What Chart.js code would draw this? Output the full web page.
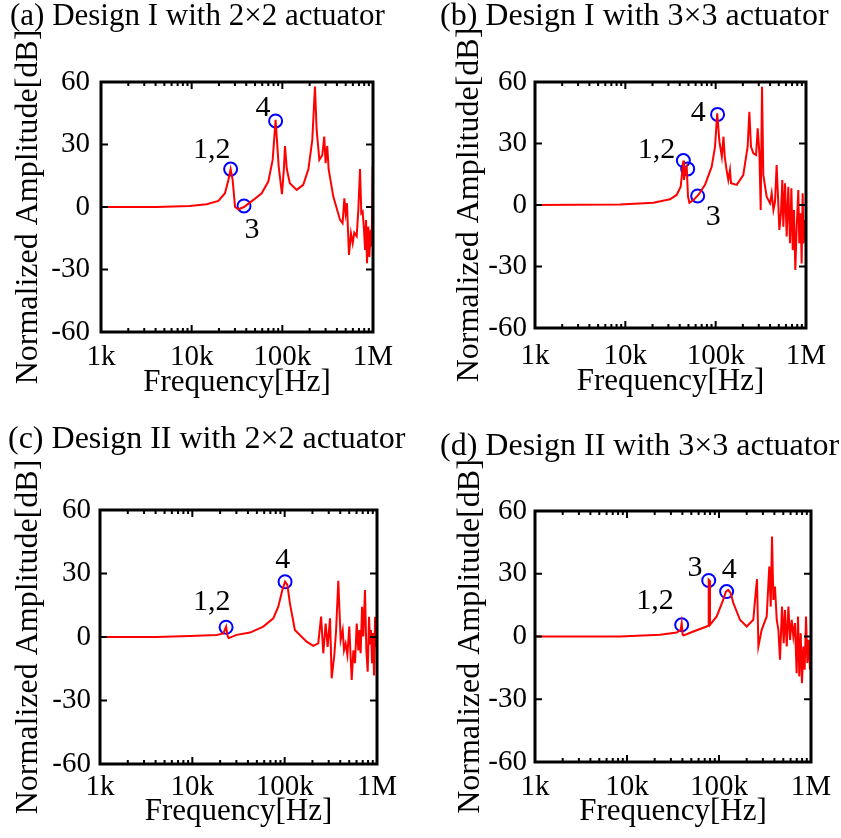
<!DOCTYPE html>
<html>
<head>
<meta charset="utf-8">
<script src="https://cdn.jsdelivr.net/npm/chart.js@4.4.1/dist/chart.umd.min.js"></script>
<style>
html,body{margin:0;padding:0;background:#fff;}
#wrap{position:relative;width:841px;height:838px;overflow:hidden;}
canvas{position:absolute;}
</style>
</head>
<body>
<div id="wrap">
<canvas id="cA" width="420" height="419" style="left:0;top:0"></canvas>
<canvas id="cB" width="421" height="419" style="left:420px;top:0"></canvas>
<canvas id="cC" width="420" height="419" style="left:0;top:419px"></canvas>
<canvas id="cD" width="421" height="419" style="left:420px;top:419px"></canvas>
</div>
<script>
// ---------------- DATA ----------------
const xMajorTicks = [1000, 10000, 100000, 1000000];
const xTickLabels = ['1k', '10k', '100k', '1M'];
const yTickValues = [-60, -30, 0, 30, 60];
const yTickLabels = ['-60', '-30', '0', '30', '60'];

const titleA = '(a) Design I with 2\u00d72 actuator';
const titleB = '(b) Design I with 3\u00d73 actuator';
const titleC = '(c) Design II with 2\u00d72 actuator';
const titleD = '(d) Design II with 3\u00d73 actuator';
const xAxisTitle = 'Frequency[Hz]';
const yAxisTitle = 'Normalized Amplitude[dB]';

// (a)
const freqA = [1000,4110,9550,14600,19700,23300,25400,26900,28300,30100,32700,37800,47900,59200,70000,78200,84300,91200,99100,104000,107000,112000,121000,144000,170000,194000,214000,229000,239000,256000,276000,290000,300000,313000,324000,365000,433000,462000,483000,499000,516000,543000,571000,597000,622000,661000,689000,719000,743000,769000,796000,817000,838000,859000,887000,912000,942000,966000,991000,1000000];
const ampA = [0,0,0.5,1.3,2.9,6.6,13,18.2,13,0,-1.1,0,3.4,6.6,12.2,22.6,41.8,19.4,6.2,18.2,29.3,18.2,11.4,8.2,10.6,18.2,32.2,57.8,37,22.6,25,33.8,21,29.3,18.2,5,-6.2,-7.8,4.2,-3,1.8,-23,-12.6,-17.4,-12.3,-14,-1.4,18.2,-3,-2.2,-11,-20.6,-6.2,-27,-9.4,-24,-11,-19,19.6,11.4];
const markFreqA = [26900, 37800, 84300];
const markAmpA = [18.2, 0.5, 41.3];
const labelTextA = ['1,2', '3', '4'];
const labelFreqA = [16700, 46200, 61200];
const labelAmpA = [27.4, -11, 47.5];

// (b)
const freqB = [1000,8730,20400,31200,37000,41000,43200,43900,44600,46100,47800,49400,51200,56600,64300,76200,90400,98400,104000,110000,117000,122000,126000,132000,138000,144000,148000,171000,202000,226000,236000,246000,261000,280000,292000,305000,315000,326000,337000,367000,400000,417000,436000,454000,473000,490000,507000,528000,547000,561000,586000,611000,637000,665000,689000,713000,736000,762000,789000,822000,843000,873000,895000,918000,942000,975000];
const ampB = [0,0.3,1.1,2.8,4.9,8.9,18.7,21.7,12.2,17.1,18.7,4.1,1.1,2.4,4.9,9.8,18.7,28.5,44.7,31,23.6,33.3,23.6,17.1,12.2,17.1,10.6,9.8,14.6,28.5,45.5,28.5,25.2,24.4,37.4,25.2,-2.4,57.7,14.6,4.1,0.8,5.7,-2.4,1.6,19.5,4.1,-12.2,-4,12.2,-10.6,10.6,-15.4,8.9,-18.7,8.1,-22,-2.4,-31.7,-10.6,7.3,-18.7,-4,-28.5,5.7,-18.7,-7.3];
const markFreqB = [43900, 49000, 63200, 105000];
const markAmpB = [21.7, 17.6, 4.4, 44.2];
const labelTextB = ['1,2', '3', '4'];
const labelFreqB = [22200, 94200, 64300];
const labelAmpB = [26.8, -5.7, 44.7];

// (c)
const freqC = [1000,4110,9440,18400,21700,23200,24200,24800,30200,42200,58700,75300,85300,94400,101000,107000,114000,129000,173000,204000,231000,248000,262000,278000,292000,310000,323000,345000,360000,381000,404000,425000,439000,457000,478000,501000,532000,555000,578000,603000,628000,644000,665000,689000,711000,741000,767000,793000,820000,841000,861000,883000,906000,929000,953000,977000,1000000];
const ampC = [0,0,0.5,1,1.7,4.9,0.2,-0.5,1,2.1,4.9,8.8,14.3,22.2,26.1,24.6,15.9,3.3,-2.2,-4.2,-3,9.6,-7.7,6.3,-4.7,8.8,-19.5,-8.5,2.6,26.6,-1.4,3.3,-6.3,-3.1,-8.5,4.9,-20.3,-6.3,-12.4,6.3,-6.3,3.3,-7.7,14.3,0.2,22.2,-6.3,-16.4,9.6,-3.1,3.3,-12.4,1.9,-18.2,9.6,-4.7,3.3];
const markFreqC = [23200, 101000];
const markAmpC = [4.6, 26.1];
const labelTextC = ['1,2', '4'];
const labelFreqC = [16200, 95300];
const labelAmpC = [16.7, 36.4];

// (d)
const freqD = [1000,8390,22900,34700,38300,39300,40300,41300,52600,73500,76600,77300,78500,79800,94400,111000,119000,126000,134000,143000,169000,200000,236000,252000,259000,268000,291000,330000,352000,365000,377000,390000,406000,424000,442000,460000,484000,505000,521000,545000,568000,592000,617000,643000,670000,698000,723000,746000,773000,798000,826000,853000,883000,912000,944000,975000];
const ampD = [0,0,0.8,1.9,3.2,6.4,0.8,0.5,2.4,4.8,5.1,27.1,26.8,5.6,9.6,17.5,21.5,22.3,20.7,16.1,8,4.8,8,22.3,27.4,-4.8,3.2,9.6,33.4,14.3,47.8,17.5,23.9,8,3.2,-11.1,14.3,-3.2,12.7,-4.8,14.3,-1.6,8,0,6.4,-17.5,9.6,-19.1,1.6,-22.3,-4.8,-15.9,9.6,-12.7,-1.6,-15.9];
const markFreqD = [39300, 77300, 121000];
const markAmpD = [5.6, 26.8, 21.5];
const labelTextD = ['1,2', '3', '4'];
const labelFreqD = [20100, 54800, 129000];
const labelAmpD = [16.7, 32.7, 31.9];

// ---------------- STYLE / LAYOUT ----------------
const SERIF = '"Liberation Serif", "Times New Roman", serif';
Chart.defaults.color = '#000';
Chart.defaults.font.family = SERIF;

const framePlugin = {
  id: 'matlabFrame',
  afterDatasetsDraw(chart) {
    const {ctx, chartArea: a, scales: {x, y}} = chart;
    ctx.save();
    ctx.strokeStyle = '#000';
    ctx.lineWidth = 2;
    ctx.beginPath();
    x.ticks.forEach(t => {
      const px = x.getPixelForValue(t.value);
      const L = t.major ? 7 : 4;
      ctx.moveTo(px, a.bottom); ctx.lineTo(px, a.bottom - L);
      ctx.moveTo(px, a.top); ctx.lineTo(px, a.top + L);
    });
    y.ticks.forEach(t => {
      const py = y.getPixelForValue(t.value);
      ctx.moveTo(a.left, py); ctx.lineTo(a.left + 7, py);
      ctx.moveTo(a.right, py); ctx.lineTo(a.right - 7, py);
    });
    ctx.stroke();
    ctx.lineWidth = 3;
    ctx.strokeRect(a.left, a.top, a.right - a.left, a.bottom - a.top);
    ctx.restore();
  }
};

const modeLabelPlugin = {
  id: 'modeLabels',
  afterDraw(chart, args, opts) {
    const {ctx, scales: {x, y}} = chart;
    ctx.save();
    ctx.font = '30px ' + SERIF;
    ctx.fillStyle = '#000';
    ctx.textAlign = 'center';
    ctx.textBaseline = 'middle';
    opts.text.forEach((t, i) => {
      ctx.fillText(t, x.getPixelForValue(opts.freq[i]), y.getPixelForValue(opts.amp[i]));
    });
    ctx.restore();
  }
};

function makePanel(id, title, freq, amp, mFreq, mAmp, lText, lFreq, lAmp, L) {
  const minorTicks = [];
  for (let k = 3; k < 6; k++) {
    for (let m = 1; m <= 9; m++) minorTicks.push(m * Math.pow(10, k));
  }
  minorTicks.push(1000000);
  const th = L.titleSize / 2;
  new Chart(document.getElementById(id), {
    type: 'line',
    data: {
      datasets: [
        {
          data: freq.map((f, i) => ({x: f, y: amp[i]})),
          borderColor: '#ff0000',
          borderWidth: 2,
          pointRadius: 0,
          tension: 0,
          fill: false
        },
        {
          data: mFreq.map((f, i) => ({x: f, y: mAmp[i]})),
          showLine: false,
          pointRadius: 6.5,
          pointBorderWidth: 2,
          pointBorderColor: '#0000ff',
          pointBackgroundColor: 'rgba(0,0,0,0)',
          clip: false
        }
      ]
    },
    options: {
      responsive: false,
      animation: false,
      events: [],
      layout: {padding: {left: L.padLeft, right: 0, top: 0, bottom: 0}},
      plugins: {
        legend: {display: false},
        tooltip: {enabled: false},
        title: {
          display: true,
          text: title,
          align: 'start',
          color: '#000',
          font: {size: L.titleSize, weight: 'normal', family: SERIF, lineHeight: 1},
          padding: {top: L.titleMid - th, bottom: L.areaTop - L.titleMid - th}
        },
        modeLabels: {text: lText, freq: lFreq, amp: lAmp}
      },
      scales: {
        x: {
          type: 'logarithmic',
          min: 1000,
          max: 1000000,
          grid: {display: false, drawTicks: false},
          border: {display: false},
          afterBuildTicks: s => {
            s.ticks = minorTicks.map(v => ({value: v, major: xMajorTicks.includes(v)}));
          },
          afterFit: s => { s.height = L.xHeight; },
          ticks: {
            autoSkip: false,
            maxRotation: 0,
            minRotation: 0,
            padding: L.xTickPad,
            font: {size: 29, family: SERIF},
            color: '#000',
            callback: v => {
              const i = xMajorTicks.indexOf(v);
              return i >= 0 ? xTickLabels[i] : '';
            }
          },
          title: {
            display: true,
            text: xAxisTitle,
            color: '#000',
            font: {size: 31, family: SERIF, lineHeight: 1},
            padding: {top: 0, bottom: L.xTitlePad}
          }
        },
        y: {
          type: 'linear',
          min: -60,
          max: 60,
          grid: {display: false, drawTicks: false},
          border: {display: false},
          afterFit: s => { s.width = L.yWidth; },
          ticks: {
            stepSize: 15,
            padding: L.yTickPad,
            font: {size: 29, family: SERIF},
            color: '#000',
            callback: v => {
              const i = yTickValues.indexOf(v);
              return i >= 0 ? yTickLabels[i] : '';
            }
          },
          title: {
            display: true,
            text: yAxisTitle,
            color: '#000',
            font: {size: 32, family: SERIF, lineHeight: 1},
            padding: {top: L.yTitlePad, bottom: 0}
          }
        },
        yRight: {
          type: 'linear',
          position: 'right',
          min: -60,
          max: 60,
          display: true,
          grid: {display: false, drawTicks: false},
          border: {display: false},
          ticks: {display: false},
          afterFit: s => { s.width = L.rightGap; }
        }
      }
    },
    plugins: [framePlugin, modeLabelPlugin]
  });
}

makePanel('cA', titleA, freqA, ampA, markFreqA, markAmpA, labelTextA, labelFreqA, labelAmpA,
  {padLeft: 10, rightGap: 47, titleSize: 31, titleMid: 17, areaTop: 82, yWidth: 91, xHeight: 87, yTitlePad: 3, xTitlePad: 20.5, yTickPad: 11, xTickPad: 8});
makePanel('cB', titleB, freqB, ampB, markFreqB, markAmpB, labelTextB, labelFreqB, labelAmpB,
  {padLeft: 20, rightGap: 35, titleSize: 32, titleMid: 17, areaTop: 82, yWidth: 95, xHeight: 91, yTitlePad: 14, xTitlePad: 21.5, yTickPad: 8, xTickPad: 11});
makePanel('cC', titleC, freqC, ampC, markFreqC, markAmpC, labelTextC, labelFreqC, labelAmpC,
  {padLeft: 8, rightGap: 43, titleSize: 32, titleMid: 21, areaTop: 91, yWidth: 92, xHeight: 74, yTitlePad: 4.5, xTitlePad: 11, yTickPad: 9, xTickPad: 6});
makePanel('cD', titleD, freqD, ampD, markFreqD, markAmpD, labelTextD, labelFreqD, labelAmpD,
  {padLeft: 20, rightGap: 30, titleSize: 32, titleMid: 28, areaTop: 92, yWidth: 95, xHeight: 76, yTitlePad: 14.5, xTitlePad: 11, yTickPad: 8, xTickPad: 8});
</script>
</body>
</html>
